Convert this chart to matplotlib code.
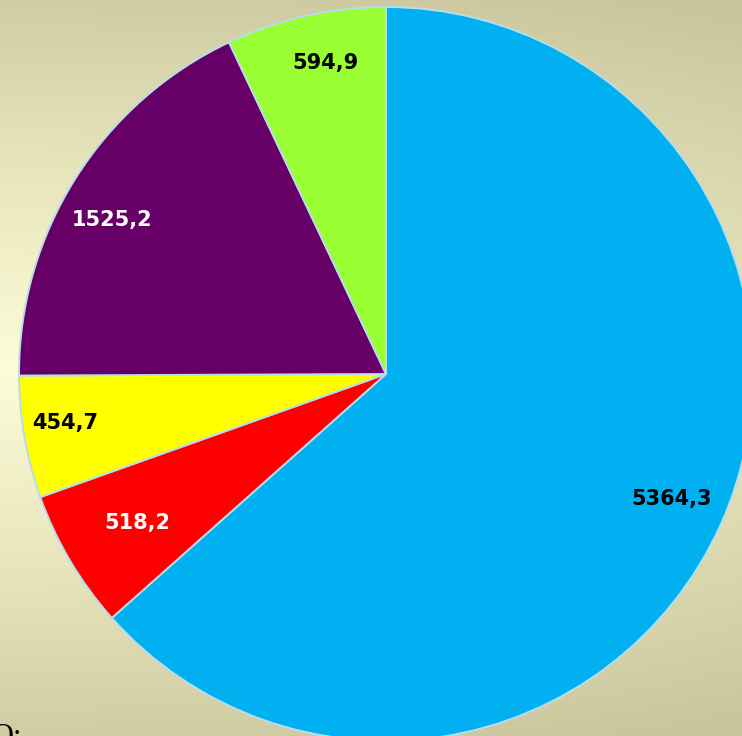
import numpy as np
import matplotlib
matplotlib.use("Agg")
import matplotlib.pyplot as plt
from matplotlib.colors import LinearSegmentedColormap

# data (clockwise from top)
values = [5364.3, 518.2, 454.7, 1525.2, 594.9]
labels = ["5364,3", "518,2", "454,7", "1525,2", "594,9"]
colors = ["#00B0F0", "#FF0000", "#FFFF00", "#660066", "#99FF33"]
label_colors = ["black", "white", "black", "white", "black"]
label_dist = [0.85, 0.79, 0.885, 0.856, 0.864]
label_ang_off = [0.6, 0.4, -1.2, 2.9, -1.6]

W, H = 742, 736
fig = plt.figure(figsize=(W / 100, H / 100), dpi=100)

# background gradient
bg = fig.add_axes([0, 0, 1, 1])
yy, xx = np.mgrid[0:1:300j, 0:1:300j]
d = np.sqrt(((yy - 0.5) * 1.15) ** 2 + (xx * 0.35) ** 2)
d = np.clip(d / 0.65, 0, 1)
cmap = LinearSegmentedColormap.from_list("bg", ["#FCFCD8", "#E6E4BA", "#C9C69E"])
bg.imshow(d, cmap=cmap, aspect="auto", extent=[0, 1, 0, 1], origin="upper")
bg.set_axis_off()

ax = fig.add_axes([0, 0, 1, 1])
R = 367
cx, cy = 386, 374  # pixel centre (from top)
wedges, _ = ax.pie(values, colors=colors, startangle=90, counterclock=False,
                   radius=R, center=(0, 0),
                   wedgeprops=dict(edgecolor="#B8DCEA", linewidth=1.4))
for w, lab, lc, ld, off in zip(wedges, labels, label_colors, label_dist, label_ang_off):
    ang = np.deg2rad((w.theta1 + w.theta2) / 2 + off)
    ax.text(ld * R * np.cos(ang), ld * R * np.sin(ang), lab, color=lc,
            ha="center", va="center", fontsize=15, fontweight="bold",
            family="DejaVu Sans")
ax.set_xlim(-cx, W - cx)
ax.set_ylim(-(H - cy), cy)
ax.set_aspect("equal")
ax.set_axis_off()
ax.patch.set_alpha(0)

fig.text(22 / W, 1 - 745 / H, "О:", ha="right", va="baseline",
         fontsize=22, family="Liberation Serif", color="black")

fig.savefig("out.png", dpi=100)
